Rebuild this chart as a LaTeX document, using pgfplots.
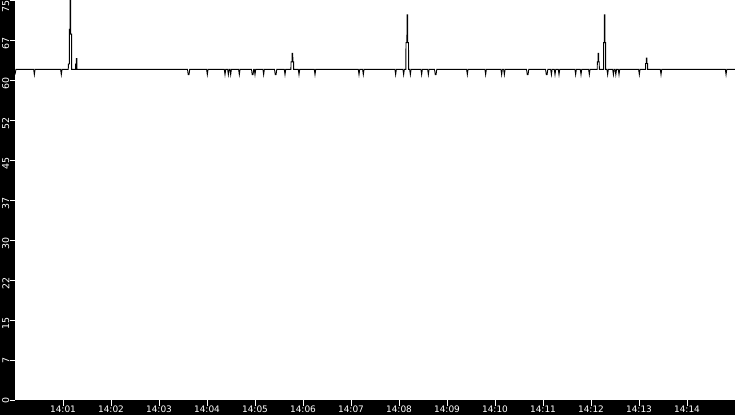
\documentclass[border=0pt]{standalone}
\usepackage{fontspec}
\setmainfont{DejaVu Sans}
\usepackage{pgfplots}
\pgfplotsset{compat=1.18}
\begin{document}
\begin{tikzpicture}[x=1bp,y=1bp]
\useasboundingbox (-15,-15) rectangle (720,400);
\fill[black] (-15,-15) rectangle (720,400);
\begin{axis}[
    at={(0,0)}, anchor=south west,
    width=720bp, height=400bp, scale only axis,
    xmin=0, xmax=900, ymin=0, ymax=75,
    axis background/.style={fill=white},
    axis line style={draw=none},
    tick align=outside, tick pos=left,
    major tick length=5.5bp,
    tick style={white, line width=0.9bp},
    xtick={60,120,...,840},
    xticklabels={14:01,14:02,14:03,14:04,14:05,14:06,14:07,14:08,14:09,14:10,14:11,14:12,14:13,14:14},
    ytick={0,7.5,15,22.5,30,37.5,45,52.5,60,67.5},
    yticklabels={0,7,15,22,30,37,45,52,60,67},
    extra y ticks={75}, extra y tick labels={75},
    xticklabel style={font=\fontsize{9}{10}\selectfont, text=white, inner sep=0pt, yshift=0bp},
    yticklabel style={font=\fontsize{9.5}{10}\selectfont, text=white, inner sep=0pt, rotate=90, anchor=south east, xshift=3bp},
    extra y tick style={yticklabel style={xshift=-3bp}},
]
\addplot[black, line width=0.9bp, mark=none] coordinates {
(0,61)(1.2,62)
(23.3,62)(24.2,61)(25.1,62)
(57,62)(57.9,61)(58.8,62)
(66.6,62)(66.7,63)(67.9,63)(68,69.5)(68.9,69.5)(69,78)(69.5,78)(69.6,68.6)(70.7,68.6)(70.8,62)
(75.7,62)(75.8,63)(76.5,63)(76.6,64)(77.3,64)(77.4,62)
(215.6,62)(216.5,61)(217.5,61)(218.4,62)
(239.5,62)(240.4,61)(241.3,62)
(261.6,62)(262.5,61)(263.4,62)
(265.8,62)(266.7,61)(267.6,62)
(268.7,62)(269.6,61)(270.5,62)
(279.5,62)(280.4,61)(281.3,62)
(295.6,62)(296.5,61)(297.5,61)(298.4,62)
(299.1,62)(300,61)(300.9,62)
(309.9,62)(310.8,61)(311.7,62)
(324.4,62)(325.3,61)(326.3,61)(327.2,62)
(336.6,62)(337.5,61)(338.4,62)
(344.9,62)(345,63.4)(346.2,63.4)(346.3,65)(347.2,65)(347.3,63.4)(348.2,63.4)(348.3,62)
(354.1,62)(355,61)(355.9,62)
(374.1,62)(375,61)(375.9,62)
(429.1,62)(430,61)(430.9,62)
(434.5,62)(435.4,61)(436.3,62)
(474.9,62)(475.8,61)(476.7,62)
(484.9,62)(485.8,61)(486.7,62)
(488.6,62)(488.7,67)(489.9,67)(490,72.2)(490.7,72.2)(490.8,67)(491.9,67)(492,62)
(493.3,62)(494.2,61)(495.1,62)
(507.4,62)(508.3,61)(509.2,62)
(515.8,62)(516.7,61)(517.6,62)
(524.4,62)(525.3,61)(526.3,61)(527.2,62)
(564.5,62)(565.4,61)(566.3,62)
(587.4,62)(588.3,61)(589.2,62)
(607.4,62)(608.3,61)(609.2,62)
(610.8,62)(611.7,61)(612.6,62)
(639.4,62)(640.3,61)(641.3,61)(642.2,62)
(663.2,62)(664.1,61)(665.1,61)(666,62)
(669.6,62)(670.5,61)(671.4,62)
(674.1,62)(675,61)(675.9,62)
(679.1,62)(680,61)(680.9,62)
(699.9,62)(700.8,61)(701.7,62)
(706.6,62)(707.5,61)(708.4,62)
(717,62)(717.9,61)(718.8,62)
(727.8,62)(727.9,63.4)(728.7,63.4)(728.8,65)(729.5,65)(729.6,63.4)(730.3,63.4)(730.4,62)
(735.7,62)(735.8,67)(736.6,67)(736.7,72.2)(737.4,72.2)(737.5,67)(738.2,67)(738.3,62)
(739.9,62)(740.8,61)(741.7,62)
(747.1,62)(748,61)(748.9,62)
(750.1,62)(751,61)(751.9,62)
(754.1,62)(755,61)(755.9,62)
(779.5,62)(780.4,61)(781.3,62)
(788.2,62)(788.3,63.1)(789.1,63.1)(789.2,64.1)(789.9,64.1)(790,63.1)(790.7,63.1)(790.8,62)
(806.6,62)(807.5,61)(808.4,62)
(887.9,62)(888.8,61)(889.7,62)
(900,62)
};
\end{axis}
\end{tikzpicture}
\end{document}
